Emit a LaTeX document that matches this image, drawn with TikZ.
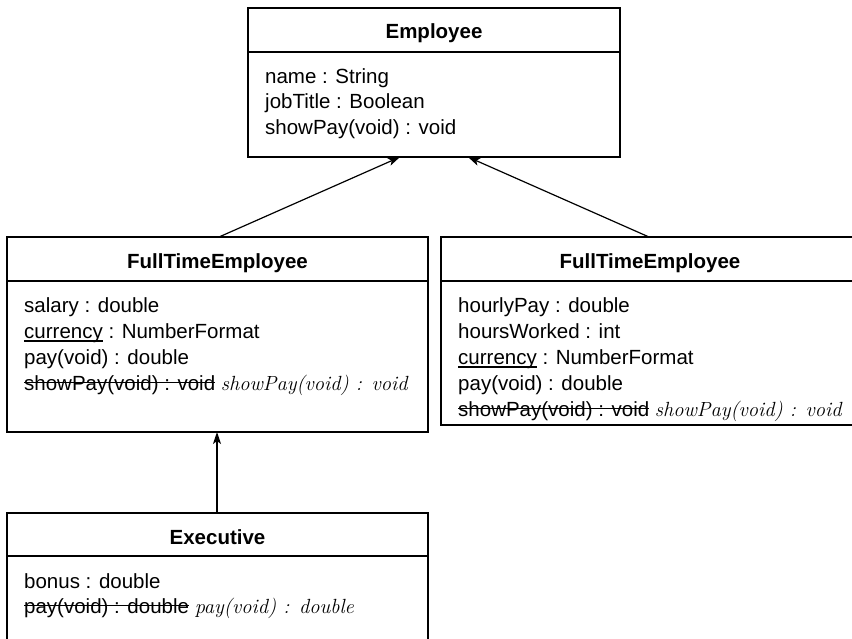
\documentclass[tikz,border=0pt]{standalone}
\usepackage{fontspec}
\setmainfont{Liberation Sans}
\usetikzlibrary{arrows.meta,calc}
\newsavebox{\mylinebox}
\newcommand{\strk}[1]{\sbox{\mylinebox}{#1}\rlap{\rule[0.33em]{\wd\mylinebox}{1.4pt}}\usebox{\mylinebox}}
\newcommand{\undl}[1]{\sbox{\mylinebox}{#1}\rlap{\rule[-3.5pt]{\wd\mylinebox}{1.3pt}}\usebox{\mylinebox}}
\newcommand{\handtxt}[1]{{\fontfamily{lmr}\selectfont\itshape #1}}
\tikzset{
  classbox/.style={draw, line width=1.9pt, anchor=north west, inner sep=0pt, outer sep=0pt},
  divider/.style={line width=1.5pt},
  ttl/.style={font=\fontsize{20.5}{24}\selectfont\bfseries, anchor=base, inner sep=0pt},
  attr/.style={font=\fontsize{20.5}{24}\selectfont, anchor=base west, inner sep=0pt},
  arr/.style={line width=1.2pt, -{Stealth[length=12pt,width=8pt,inset=3pt]}},
}
\begin{document}
\begin{tikzpicture}[x=1pt,y=-1pt]
\clip (0,0) rectangle (852,638);
\fill[white] (0,0) rectangle (852,638);

% Employee
\node[classbox, minimum width=372pt, minimum height=149pt] (emp) at (248,8) {};
\draw[divider] ($(emp.north west)+(0,44)$) -- ($(emp.north east)+(0,44)$);
\node[ttl] (empt) at ($(emp.north)+(0,30)$) {Employee};
\node[attr] (e1) at ($(emp.north west)+(17,75)$) {name : String};
\node[attr] (e2) at ($(emp.north west)+(17,100.5)$) {jobTitle : Boolean};
\node[attr] (e3) at ($(emp.north west)+(17,126)$) {showPay(void) : void};

% FullTimeEmployee (left)
\node[classbox, minimum width=421pt, minimum height=195pt] (fte1) at (7,237) {};
\draw[divider] ($(fte1.north west)+(0,44)$) -- ($(fte1.north east)+(0,44)$);
\node[ttl] (fte1t) at ($(fte1.north)+(0,31)$) {FullTimeEmployee};
\node[attr] (f1) at ($(fte1.north west)+(17,75)$) {salary : double};
\node[attr] (f2) at ($(fte1.north west)+(17,101)$) {\undl{currency} : NumberFormat};
\node[attr] (f3) at ($(fte1.north west)+(17,127)$) {pay(void) : double};
\node[attr] (f4) at ($(fte1.north west)+(17,153)$) {\strk{showPay(void) : void} \handtxt{showPay(void) : void}};

% FullTimeEmployee (right)
\node[classbox, minimum width=440pt, minimum height=188pt] (fte2) at (441,237) {};
\draw[divider] ($(fte2.north west)+(0,44)$) -- ($(fte2.north east)+(0,44)$);
\node[ttl] (fte2t) at ($(fte2.north west)+(209,31)$) {FullTimeEmployee};
\node[attr] (g1) at ($(fte2.north west)+(17,75)$) {hourlyPay : double};
\node[attr] (g2) at ($(fte2.north west)+(17,101)$) {hoursWorked : int};
\node[attr] (g3) at ($(fte2.north west)+(17,127)$) {\undl{currency} : NumberFormat};
\node[attr] (g4) at ($(fte2.north west)+(17,153)$) {pay(void) : double};
\node[attr] (g5) at ($(fte2.north west)+(17,179)$) {\strk{showPay(void) : void} \handtxt{showPay(void) : void}};

% Executive
\node[classbox, minimum width=421pt, minimum height=150pt] (exec) at (7,513) {};
\draw[divider] ($(exec.north west)+(0,43)$) -- ($(exec.north east)+(0,43)$);
\node[ttl] (exect) at ($(exec.north)+(0,31)$) {Executive};
\node[attr] (x1) at ($(exec.north west)+(17,75)$) {bonus : double};
\node[attr] (x2) at ($(exec.north west)+(17,100)$) {\strk{pay(void) : double} \handtxt{pay(void) : double}};

% Generalisations
\draw[arr] ($(fte1.north west)+(212,0)$) -- ($(emp.south)+(-34,0)$);
\draw[arr] ($(fte2.north west)+(208,0)$) -- ($(emp.south)+(34,0)$);
\draw[arr] ($(exec.north west)+(210,0)$) -- ($(fte1.south west)+(210,0)$);
\end{tikzpicture}
\end{document}
